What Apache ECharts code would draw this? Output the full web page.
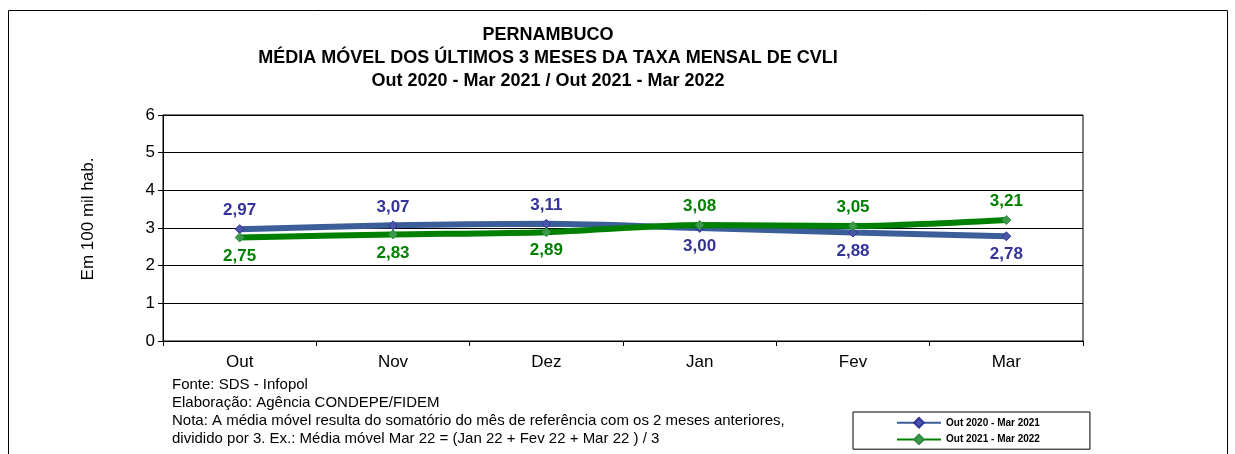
<!DOCTYPE html>
<html>
<head>
<meta charset="utf-8">
<script src="https://cdn.jsdelivr.net/npm/echarts@6/dist/echarts.min.js"></script>
<style>html,body{margin:0;padding:0;background:#fff}#c{width:1235px;height:454px}</style>
</head>
<body>
<div id="c"></div>
<script>
var categories = ['Out', 'Nov', 'Dez', 'Jan', 'Fev', 'Mar'];
var serie2020 = [2.97, 3.07, 3.11, 3.00, 2.88, 2.78];
var serie2021 = [2.75, 2.83, 2.89, 3.08, 3.05, 3.21];
var seriesNames = ['Out 2020 - Mar 2021', 'Out 2021 - Mar 2022'];
var yTicks = [0, 1, 2, 3, 4, 5, 6];
var yAxisName = 'Em 100 mil hab.';
var titleLines = ['PERNAMBUCO', 'MÉDIA MÓVEL DOS ÚLTIMOS 3 MESES DA TAXA MENSAL DE CVLI', 'Out 2020 - Mar 2021 / Out 2021 - Mar 2022'];
var notes = [
  'Fonte: SDS - Infopol',
  'Elaboração: Agência CONDEPE/FIDEM',
  'Nota: A média móvel resulta do somatório do mês de referência com os 2 meses anteriores,',
  'dividido por 3. Ex.: Média móvel Mar 22 = (Jan 22 + Fev 22 + Mar 22 ) / 3'
];

var FONT = 'Liberation Sans, Arial, sans-serif';
function fmt(v) { return v.toFixed(2).replace('.', ','); }

function buildData(own, other) {
  return own.map(function (v, i) {
    return {
      value: v,
      label: { position: v >= other[i] ? 'top' : 'bottom' }
    };
  });
}

var chart = echarts.init(document.getElementById('c'), null, { renderer: 'canvas' });
var noteGraphics = notes.map(function (t, i) {
  return {
    type: 'text', left: 172, top: 377 + i * 18,
    style: { text: t, font: '15px ' + FONT, fill: '#000' }
  };
});

chart.setOption({
  backgroundColor: '#fff',
  animation: false,
  title: {
    text: titleLines.join('\n'),
    left: 543, top: 19, textAlign: 'center',
    textStyle: { fontFamily: FONT, fontSize: 18, fontWeight: 'bold', color: '#000', lineHeight: 23 }
  },
  grid: {
    left: 163, right: 152, top: 115, bottom: 113,
    show: true, borderColor: '#000', borderWidth: 1, backgroundColor: '#fff'
  },
  legend: {
    left: 853, top: 412, orient: 'vertical',
    padding: [5, 50, 4, 43],
    borderColor: '#000', borderWidth: 1,
    itemWidth: 44, itemHeight: 12, itemGap: 5,
    textStyle: { fontFamily: FONT, fontSize: 10, fontWeight: 'bold', color: '#000' },
    data: seriesNames
  },
  xAxis: {
    type: 'category', data: categories, boundaryGap: true,
    axisLine: { lineStyle: { color: '#000', width: 1 } },
    axisTick: { show: true, length: 5, lineStyle: { color: '#000' } },
    axisLabel: { fontFamily: FONT, fontSize: 17, color: '#000', margin: 13 }
  },
  yAxis: {
    type: 'value', min: yTicks[0], max: yTicks[yTicks.length - 1], interval: 1,
    axisLine: { show: true, lineStyle: { color: '#000', width: 1 } },
    axisTick: { show: true, length: 5, lineStyle: { color: '#000' } },
    axisLabel: { fontFamily: FONT, fontSize: 17, color: '#000', margin: 8 },
    splitLine: { lineStyle: { color: '#000', width: 1 } }
  },
  series: [
    {
      name: seriesNames[0], type: 'line', smooth: 0.25,
      data: buildData(serie2020, serie2021),
      symbol: 'diamond', symbolSize: 9,
      lineStyle: { color: '#3B5E98', width: 6 },
      itemStyle: { color: '#4A55A8', borderColor: '#333399', borderWidth: 1 },
      label: { show: true, distance: 5, formatter: function (p) { return fmt(p.value); },
        fontFamily: FONT, fontSize: 17, fontWeight: 'bold', color: '#333399' },
      z: 3
    },
    {
      name: seriesNames[1], type: 'line', smooth: 0.25,
      data: buildData(serie2021, serie2020),
      symbol: 'diamond', symbolSize: 9,
      lineStyle: { color: '#008000', width: 6 },
      itemStyle: { color: '#3A9A4A', borderColor: '#2E8B3E', borderWidth: 1 },
      label: { show: true, distance: 5, formatter: function (p) { return fmt(p.value); },
        fontFamily: FONT, fontSize: 17, fontWeight: 'bold', color: '#008000' },
      z: 4
    }
  ],
  graphic: [
    { type: 'rect', shape: { x: 8.5, y: 10.5, width: 1219, height: 470 },
      style: { fill: 'none', stroke: '#000', lineWidth: 1 }, z: -1, silent: true },
    { type: 'text', x: 88, y: 219, rotation: Math.PI / 2,
      style: { text: yAxisName, font: '17px ' + FONT, fill: '#000', align: 'center', verticalAlign: 'middle' } }
  ].concat(noteGraphics)
});
</script>
</body>
</html>
